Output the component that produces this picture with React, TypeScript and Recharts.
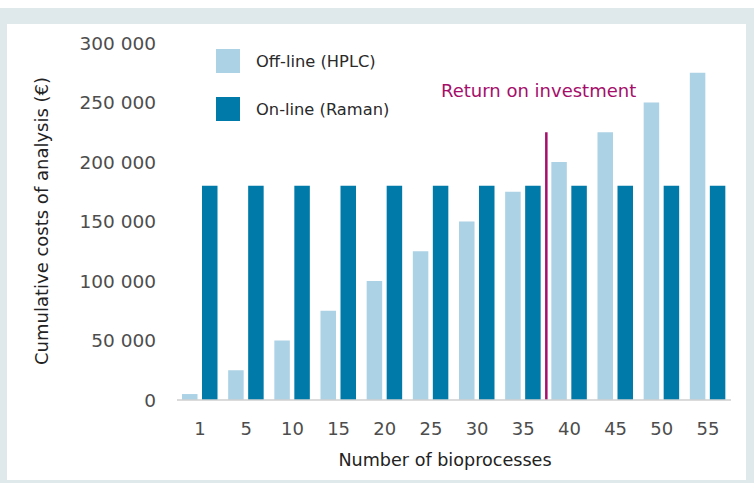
import React from 'react';
import { BarChart, Bar, XAxis, YAxis, Legend, ReferenceLine, Label } from 'recharts';

const processes = [1, 5, 10, 15, 20, 25, 30, 35, 40, 45, 50, 55];
const offlineCosts = [5000, 25000, 50000, 75000, 100000, 125000, 150000, 175000, 200000, 225000, 250000, 275000];
const onlineCosts = [180000, 180000, 180000, 180000, 180000, 180000, 180000, 180000, 180000, 180000, 180000, 180000];
const yTicks = [0, 50000, 100000, 150000, 200000, 250000, 300000];

const roiAt = 40;
const roiTop = 225000;

const data = processes.map((n, i) => ({ n, offline: offlineCosts[i], online: onlineCosts[i] }));

const FONT = '"DejaVu Sans", sans-serif';
const LIGHT = '#acd2e6';
const DARK = '#007aa8';
const MAGENTA = '#a50e6a';

const fmt = (v: number) => (v === 0 ? '0' : `${v / 1000} 000`);

function LegendBox({ payload }: any) {
  return (
    <div style={{ fontFamily: FONT, fontSize: 16.3, color: '#2a2a2a' }}>
      {(payload || []).map((p: any) => (
        <div key={p.value} style={{ display: 'flex', alignItems: 'center', height: 26, marginBottom: 22 }}>
          <span style={{ width: 24, height: 24, background: p.color, display: 'inline-block' }} />
          <span style={{ marginLeft: 16 }}>{p.value}</span>
        </div>
      ))}
    </div>
  );
}

export default function App() {
  return (
    <div style={{ position: 'absolute', left: 0, top: 0, width: 754, height: 483, background: '#fff' }}>
      <div style={{ position: 'absolute', left: 0, top: 8, width: 754, height: 475, background: '#dfe8eb' }} />
      <div style={{ position: 'absolute', left: 7, top: 24, width: 739, height: 456, background: '#fff' }} />
      <div style={{ position: 'absolute', left: 0, top: 0 }}>
        <BarChart
          width={754}
          height={483}
          data={data}
          margin={{ top: 43, right: 23, bottom: 23, left: 77 }}
          barSize={15.5}
          barGap={4.5}
        >
          <XAxis
            dataKey="n"
            height={60}
            tickLine={false}
            tickMargin={16}
            axisLine={{ stroke: '#cfcfcf', strokeWidth: 1.5 }}
            tick={{ fontFamily: FONT, fontSize: 18, fill: '#4d4d4d' }}
          >
            <Label
              content={() => (
                <text x={445} y={466} textAnchor="middle" fontFamily={FONT} fontSize={17.6} fill="#222">
                  Number of bioprocesses
                </text>
              )}
            />
          </XAxis>
          <YAxis
            width={100}
            domain={[0, 300000]}
            ticks={yTicks}
            tickFormatter={fmt}
            axisLine={false}
            tickLine={false}
            tickMargin={15}
            tick={{ fontFamily: FONT, fontSize: 18.5, fill: '#4d4d4d' }}
          >
            <Label
              content={() => (
                <text
                  x={48}
                  y={221}
                  textAnchor="middle"
                  transform="rotate(-90, 48, 221)"
                  fontFamily={FONT}
                  fontSize={18}
                  fill="#222"
                >
                  Cumulative costs of analysis (€)
                </text>
              )}
            />
          </YAxis>
          <Legend
            layout="vertical"
            verticalAlign="middle"
            align="center"
            content={<LegendBox />}
            wrapperStyle={{ left: 216, top: 48, width: 'auto' }}
          />
          <Bar dataKey="offline" name="Off-line (HPLC)" fill={LIGHT} isAnimationActive={false} />
          <Bar dataKey="online" name="On-line (Raman)" fill={DARK} isAnimationActive={false} />
          <ReferenceLine
            segment={[{ x: roiAt, y: 0 }, { x: roiAt, y: roiTop }]}
            position="start"
            stroke={MAGENTA}
            strokeWidth={2.5}
          />
        </BarChart>
      </div>
      <div
        style={{
          position: 'absolute',
          left: 441,
          top: 82,
          fontFamily: FONT,
          fontSize: 18,
          lineHeight: '18px',
          color: MAGENTA,
          whiteSpace: 'nowrap',
        }}
      >
        Return on investment
      </div>
    </div>
  );
}
